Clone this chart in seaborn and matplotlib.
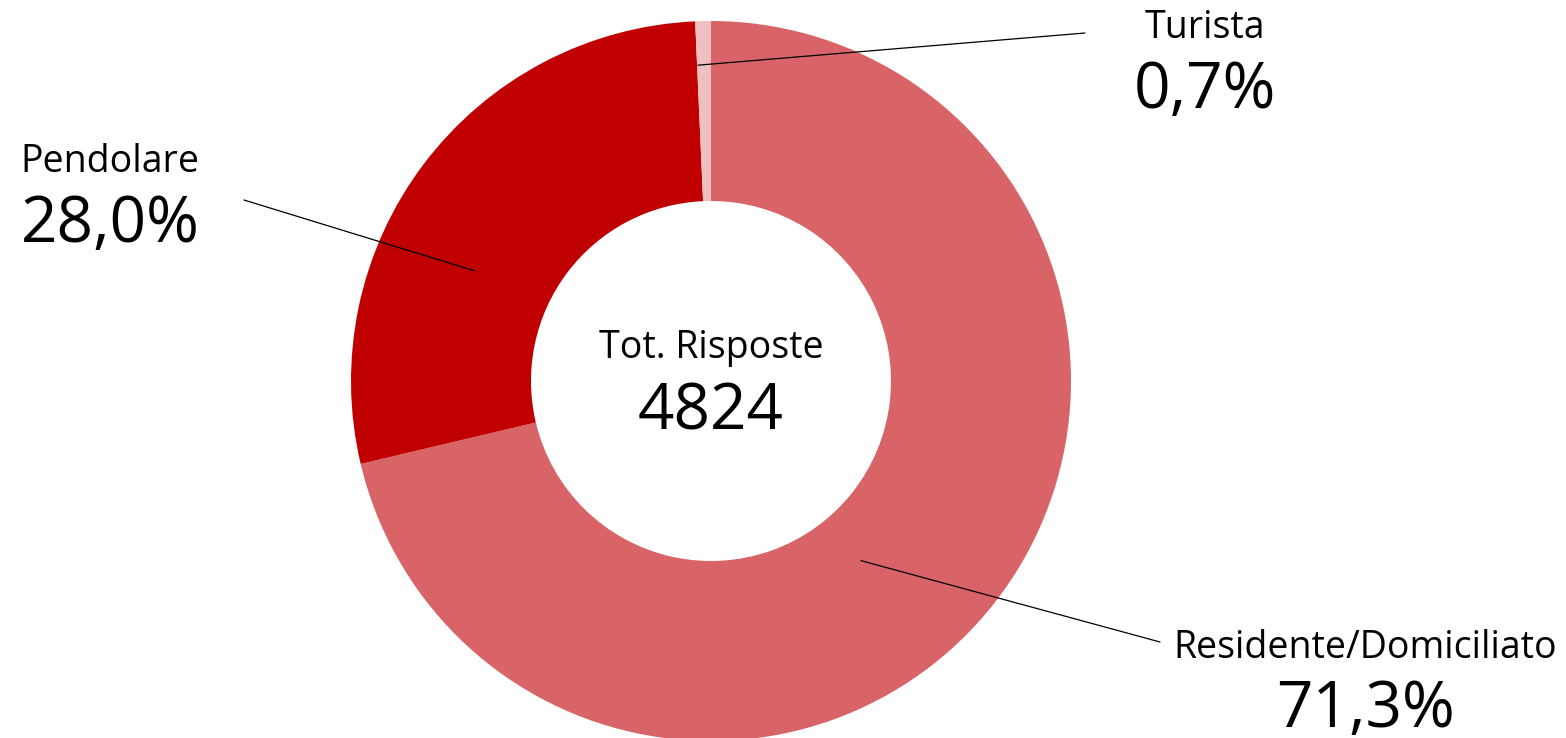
import matplotlib
matplotlib.use("Agg")
import matplotlib.pyplot as plt
import seaborn as sns
import numpy as np

# dati
categorie = ["Residente/Domiciliato", "Pendolare", "Turista"]
percentuali = [71.3, 28.0, 0.7]
etichette_pct = ["71,3%", "28,0%", "0,7%"]
colori = ["#D96468", "#C00000", "#F0C0C0"]
totale = 4824

sns.set_theme(style="white")
plt.rcParams['font.family'] = ['Open Sans', 'DejaVu Sans']
plt.rcParams['text.color'] = 'black'

W, H = 1566, 738
CX, CY, R = 711, 381, 360  # centro e raggio in pixel


def px(x, y):
    # pixel (dall'alto) -> coordinate dati
    return (x - CX) / R, (CY - y) / R


fig = plt.figure(figsize=(W / 100, H / 100), dpi=100)
ax = fig.add_axes([0, 0, 1, 1])

wedges, _ = ax.pie(percentuali, colors=colori, startangle=90, counterclock=False,
                   radius=1, wedgeprops=dict(width=0.5, linewidth=0))
ax.set_xlim(-CX / R, (W - CX) / R)
ax.set_ylim(-(H - CY) / R, CY / R)
ax.axis('off')

# testo centrale
ax.text(*px(CX, 358), "Tot. Risposte", ha='center', va='baseline', fontsize=27, color='black')
ax.text(*px(CX, 430), str(totale), ha='center', va='baseline', fontsize=46, color='black')

# etichette: (frazione angolare nello spicchio, raggio, fine linea, centro testo, baseline nome, baseline %)
layout = {
    "Residente/Domiciliato": (0.454, 0.65, (1160, 642), 1365, 658, 727),
    "Pendolare": (0.62, 0.725, (244, 200), 110, 172, 242),
    "Turista": (0.94, 0.878, (1085, 33), 1205, 38, 108),
}

for w, nome, pct in zip(wedges, categorie, etichette_pct):
    frac, r, fine, tx, yb1, yb2 = layout[nome]
    t1, t2 = w.theta1, w.theta2
    ang = np.deg2rad(t1 + frac * (t2 - t1))
    start = (r * np.cos(ang), r * np.sin(ang))
    ax.annotate("", xy=start, xytext=px(*fine),
                arrowprops=dict(arrowstyle='-', color='black', lw=0.9,
                                shrinkA=0, shrinkB=0))
    ax.text(*px(tx, yb1), nome, ha='center', va='baseline', fontsize=27, color='black')
    ax.text(*px(tx, yb2), pct, ha='center', va='baseline', fontsize=46, color='black')

fig.savefig("out.png", dpi=100)
